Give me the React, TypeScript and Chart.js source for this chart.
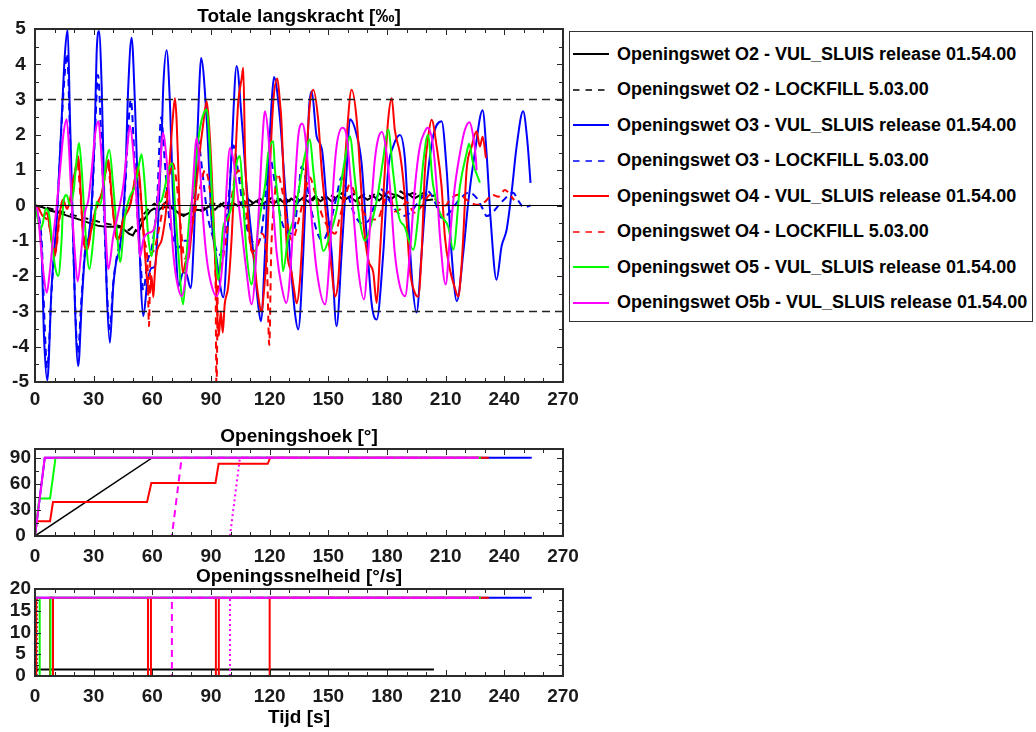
import React, { useEffect, useRef } from 'react';
import { Chart, registerables } from 'chart.js';
Chart.register(...registerables);

const FONT = '"Liberation Sans", Arial, Helvetica, sans-serif';

// ---------- tick labels ----------
const X_TICKS = [0, 30, 60, 90, 120, 150, 180, 210, 240, 270];
const FORCE_TICKS = [-5, -4, -3, -2, -1, 0, 1, 2, 3, 4, 5];
const ANGLE_TICKS = [0, 30, 60, 90];
const SPEED_TICKS = [0, 5, 10, 15, 20];

// ---------- legend labels ----------
const LABELS = [
  'Openingswet O2 - VUL_SLUIS release 01.54.00',
  'Openingswet O2 - LOCKFILL 5.03.00',
  'Openingswet O3 - VUL_SLUIS release 01.54.00',
  'Openingswet O3 - LOCKFILL 5.03.00',
  'Openingswet O4 - VUL_SLUIS release 01.54.00',
  'Openingswet O4 - LOCKFILL 5.03.00',
  'Openingswet O5 - VUL_SLUIS release 01.54.00',
  'Openingswet O5b - VUL_SLUIS release 01.54.00',
];
const COLORS = ['#000000', '#000000', '#0000ff', '#0000ff', '#ff0000', '#ff0000', '#00ff00', '#ff00ff'];
const DASHED = [false, true, false, true, false, true, false, false];

// ---------- Totale langskracht [‰] ----------
const O2_VUL_T = [0,4,8,12,16,20,24,28,32,36,40,44,46,48,50,51.5,53,55,57,59,61,63,65,68,71,74,77,80,83,86,89,92,95,98,101,104,107,110,113,116,119,122,125,128,131,134,137,140,143,146,149,152,155,158,161,164,167,170,173,176,179,182,185,188,191,194,197,200,203.5];
const O2_VUL_V = [0,-0.05,-0.15,-0.2,-0.28,-0.35,-0.42,-0.5,-0.57,-0.6,-0.6,-0.62,-0.7,-0.8,-0.85,-0.7,-0.75,-0.45,-0.3,-0.15,-0.08,-0.15,-0.05,-0.05,-0.1,-0.25,-0.26,-0.18,-0.12,-0.15,-0.02,-0.12,0.05,-0.08,0.08,-0.02,0.12,0,0.12,0.02,0.15,0.05,0.18,0.05,0.2,0.08,0.22,0.1,0.26,0.12,0.25,0.1,0.28,0.15,0.25,0.12,0.28,0.16,0.26,0.14,0.3,0.18,0.3,0.2,0.32,0.2,0.3,0.15,0.17];

const O2_LF_T = [0,5,10,15,20,25,30,35,40,45,48,50,53,55.5,58,61,64,67,70,73,76,79,82,85,88,91,94,97,100,103,106,109,112,115,118,121,124,127,130,133,136,139,142,145,148,151,154,157,160,163,166,169,172,175,178,181,184,187,190,193,196,199,202,205];
const O2_LF_V = [0,-0.05,-0.12,-0.2,-0.28,-0.35,-0.42,-0.5,-0.55,-0.6,-0.7,-0.6,-0.5,-0.25,-0.1,0.05,-0.05,0.1,-0.05,-0.2,-0.3,-0.15,-0.05,-0.15,0,0.08,-0.05,0.1,0,0.15,0.05,0.18,0.05,0.2,0.08,0.22,0.1,0.24,0.12,0.26,0.1,0.28,0.15,0.3,0.18,0.3,0.2,0.35,0.2,0.33,0.22,0.35,0.25,0.38,0.25,0.35,0.3,0.4,0.28,0.35,0.3,0.36,0.25,0.3];

const O3_VUL_T = [0,3.4,4.6,6.3,8.5,11.1,13.6,15.3,16.7,17.9,19.3,20.4,22.1,23.9,25.6,27.3,29,30.7,31.5,32.7,34.1,35.3,36.6,38.3,40,41.4,43.5,46,47.7,49.4,51.1,52.8,54.2,55.4,57.4,59.6,61.3,63,64.8,65.6,67.3,69,70.4,72.1,73.3,75.8,77.5,79.6,81.3,82.7,84,84.9,87.8,90.3,92.9,96.3,98.8,100.6,103.1,105.7,108.2,111.6,114.2,115.5,117.6,119.3,121,122.2,125.3,127.8,130.3,132.9,134.6,137.2,138.9,140.2,141.5,144,146.7,149,151.7,154.2,156.8,159.4,161,164.5,167,169.6,172.1,174.7,178.1,180.6,183.2,186.6,189.2,190.9,193.1,195.1,197.7,200.3,203.6,207.9,210.5,213,215.7,219,221.5,224.9,228.9,230.9,233,236,238.6,241.2,243.7,246.3,249.6,251.7,253.4];
const O3_VUL_V = [0,-1.34,-3.7,-4.95,-2.29,-0.4,2.43,4.3,4.98,2.43,-0.4,-2.76,-4.55,-2.76,-1.35,-0.97,0.07,2.43,4.3,4.94,3.37,0.54,-2.29,-3.89,-2.29,-1.63,-1.16,0.54,3.37,4.75,2.9,0.07,-2.29,-3.13,-2.2,-1.77,-1.73,-0.4,1.95,3.37,4.4,2.9,0.54,-1.35,-2.29,-1.9,-1.95,-2.34,-0.88,1.48,3.37,4.18,2.44,-0.4,-1.53,-2.6,-0.4,1.59,3.95,2.44,0.55,-1.34,-2.85,-3.28,-1.34,1.02,2.9,3.64,2.44,0.55,-1.34,-3.03,-3.51,-1.34,1.02,2.8,3.24,1.96,1.6,0.2,-1.34,-3.42,-1.34,1.02,2.44,2.0,1.2,-0.87,-2.76,-3.23,-1.34,1.02,1.68,2.0,1.3,-0.4,-2.28,-3.03,-1.34,0.55,1.96,2.39,1.02,-1.34,-2.71,-1.34,0.07,1.49,2.7,1.49,-0.4,-2.1,-1.15,-0.68,0.36,1.68,2.67,1.87,0.64];

const O3_LF_T = [0,3.4,4.8,6.2,8.5,11,13.5,15.3,16.4,17.8,19.3,20.5,21.9,23.8,25.8,27.5,29.2,30.8,32.2,33.8,35.3,36.8,38.2,40,42,44,46,47.8,49,50.8,52.6,54.2,55.4,57.5,60,62.5,64.5,66.3,68.5,71,73.5,76,79,81,83.2,85.5,88,91,94,96.5,99,101.5,104,107,110,113.5,116,118,120,122.5,125.5,128,132,134.5,136.3,139,142,147,151,154,156.8,159.5,163,167,171,174,177,180.5,184,188,192,196,201,204.5,208,212,216,222,226,229,231,234,237,239.5,244.5,247,250,253.4];
const O3_LF_V = [0,-1.0,-3.2,-4.6,-2.4,-0.5,2.2,3.8,4.3,2.2,-0.6,-2.8,-4.2,-2.6,-1.2,-0.9,0.1,2.2,3.7,2.0,-0.2,-2.4,-3.5,-2.2,-1.4,-0.9,0.4,2.3,3.0,1.4,-0.5,-1.8,-2.4,-1.6,-1.1,0.2,2.5,1.3,-0.3,-1.0,-1.2,-1.0,-1.0,0.3,1.9,1.0,-0.2,-0.9,-1.4,-1.1,0.2,1.7,0.9,-0.3,-0.9,-1.1,-0.7,0.4,1.4,0.7,-0.3,-0.7,-0.8,0.2,1.1,0.6,-0.3,-1.0,-0.5,0.2,0.8,0.4,-0.2,-0.5,-0.4,0.1,0.45,0.2,-0.1,-0.3,-0.2,0.1,0.4,0.1,-0.35,-0.2,0.1,0.37,0.2,-0.1,-0.3,-0.2,0,0.15,0.36,0.15,-0.05,0];

const O4_VUL_T = [0,2,4.3,6,7.5,9,10.2,12,14.3,16.5,18,19.6,21.5,22.2,23.4,24.7,26.7,29,31.5,34.1,36.3,37.6,39.2,41.4,42.6,45.1,48.6,51.1,52.8,54.5,56.2,57.5,58.8,59.6,60.5,61.3,62.2,64.8,67.3,69,70.4,71.6,72.4,73.3,74.1,75.7,77,78.5,80,82,84,86,87.8,89,90.3,92,93,94,95,96,97,98.8,100.6,102.2,103.9,105.7,106.5,107.4,109.1,110.5,112,113.5,115.9,116.8,118.5,120.1,121.8,123.9,125.3,126,127,129,131.2,132.5,133.8,135.5,137.2,138.9,140.6,142.3,144.8,146.6,149.1,151.7,153.4,155.1,156.8,159.4,161.9,164.5,166.2,167.8,170.4,173,174.7,176.4,178.9,180.6,182.4,184,186.6,188.3,190,191.7,194.3,196,197.7,199.4,201.1,202.8,205.4,207.9,209.6,212.2,214.5,216.4,218,219,220.7,223.3,225.8,227.5,228.9,230.6];
const O4_VUL_V = [0,-0.1,-0.31,-0.2,-0.6,-1.2,-1.43,-0.5,0.16,-0.1,0.2,0.73,1.2,1.39,0.35,-0.97,-1.25,-0.6,0,0.35,1.01,1.29,0.26,-0.87,-0.97,-0.4,0,0.73,1.1,0,-1.35,-2.2,-2.48,-2.0,-2.6,-1.9,-1.35,-0.97,0,1.34,2.43,3.04,2.43,1.01,-0.4,-1.9,-1.6,-1.5,-0.8,0.3,1.4,2.3,2.95,2.3,1.0,-1.35,-2.8,-3.7,-3.0,-3.6,-2.8,-2.3,-0.88,1.0,2.9,3.6,3.9,1.48,-0.4,-1.2,-1.5,-2.3,-3.0,-2.6,-1.35,1.0,2.9,3.6,2.9,2.4,1.0,-1.35,-1.9,-2.4,-2.77,-2.1,-0.4,1.48,2.9,3.28,2.43,1.0,-0.4,-1.82,-2.58,-2.1,-0.4,1.95,3.28,2.43,1.0,-0.4,-1.54,-1.9,-2.76,-1.35,1.0,2.43,3.04,2.14,1.48,0.73,-0.4,-1.82,-2.48,-2.58,-1.35,1.0,1.95,2.43,1.67,0.54,-0.88,-1.82,-2.3,-2.58,-1.8,-0.88,1.0,1.67,2.1,1.67,1.95,1.34];

const O4_LF_T = [0,2,4.3,7,9,10.5,12.5,14.5,17,19.5,21.6,23.2,25,26.8,29.5,32,34.5,37.2,39,41.5,43,46,49,52.4,54.3,56,57.5,58.3,59,60.5,62.5,65,68,70.5,72.5,74.5,76.5,78.5,81,84,87,89.5,91.5,92.3,92.8,93.5,95,97,99.5,102,104,106,108.5,111,113.5,116,118.5,119.8,120.8,122.5,124,126.5,129,131.5,134,137,140.5,143,147,151,153.5,156,158.5,161,164,168,172,175,178,181,184,187,190,194,198,202,206,210,212,217,221,225.8,230,234,237,240.3,243,245];
const O4_LF_V = [0,-0.1,-0.3,-0.5,-1.1,-1.3,-0.4,0.1,0,0.6,1.25,0.3,-0.9,-1.1,-0.5,0,0.4,1.2,0.3,-0.8,-0.9,-0.3,0.1,1.0,0.1,-1.0,-1.6,-3.42,-1.5,-1.3,-0.9,-0.2,0.6,1.2,0.6,-0.6,-1.5,-1.2,-0.4,0.4,1.0,0.4,-1.0,-2.0,-5.2,-2.4,-1.8,-1.2,-0.2,0.7,1.0,0.6,-0.4,-1.3,-1.2,-0.8,-1.5,-3.95,-1.3,0.2,0.9,0.4,-0.5,-1.0,-0.6,0.1,0.8,0.4,-0.3,-0.7,-0.8,-0.3,0.2,0.6,0.3,-0.2,-0.4,-0.4,0,0.4,-0.17,-0.1,0.1,-0.2,0,0.3,0.1,0,0.16,0.31,0.15,0.02,0.1,0.3,0.25,0.44,0.3,0.15];

const O5_VUL_T = [0,1.5,2.6,4,5.5,7,9,10.5,11.9,13.6,14.5,16.2,17.9,19.6,21.3,22.5,23.9,25.6,27.8,29.8,31.5,33.2,34.9,36.6,38,40,42.1,43.5,46,48.6,51.1,53.7,54.5,56.2,57.9,59.7,61.3,63,64.8,66.5,68.2,70.2,71.6,73.3,75.8,77.6,79.2,80.9,82.7,84.4,86.2,87.8,89.5,91,92.5,93.7,96.3,98,100.6,103.1,104.8,106.5,108.2,110.8,112.5,114.2,115.9,117.6,119.3,121.8,122.7,125.3,126.8,129.5,132.1,134.6,137.2,140.6,142.3,144.3,147.5,151,154,157,159.4,161,163.5,166,168.7,172,175,178,180.6,183,186,189,193.4,196.5,198.5,200.9,203.5,207,211.3,213.9,217.3,220.7,222,224,227.5];
const O5_VUL_V = [0,-0.4,-0.69,-0.5,-0.1,-0.2,-1.2,-1.8,-2.0,-0.97,0.1,0.3,0,0.35,1.3,1.77,1.0,-0.6,-1.8,-0.97,0.1,0,0.5,1.3,1.58,0.54,-0.88,-1.6,-0.3,0.26,0.54,1.3,1.45,0.54,-0.88,-1.43,-0.6,0,0.16,0.54,1.0,1.2,0,-1.35,-2.8,-1.35,-0.2,0.35,1.48,2.2,2.6,2.72,1.5,-0.3,-1.5,-2.1,-0.6,-0.4,0,1.2,1.4,0.1,-1.35,-2.24,-1.54,-0.6,0,0.54,1.48,1.82,1.0,-0.4,-1.86,-0.88,-0.4,0.35,1.2,1.87,1.0,0,-1.29,-0.8,-0.2,0.8,1.6,1.96,0.8,-0.4,-1.0,-0.5,0.2,1.3,2.15,1.0,-0.3,-0.6,-1.25,0,1.2,2.0,0.6,-0.2,-0.6,-1.25,0.54,1.48,1.75,1.2,0.65];

const O5B_VUL_T = [0,1.5,2.6,4.3,6,7.7,9.4,11.1,12.8,14.5,16.2,17.5,18.7,20.4,21.8,23.9,25.6,27.3,29,30.7,32.4,34.1,35.8,37.5,40,42.6,45.1,46.9,48.6,50.3,52,53.7,55.4,57.9,60.5,62.2,63.9,65.4,67.3,69,70.7,72.4,75,77.6,79.2,80.9,82.7,84.4,86,87.8,90,92.9,96.3,98,99.7,101.4,103.1,105.5,108,110.8,114.2,115.9,117.6,119.3,121,123.6,126.1,128.5,131.2,132.9,134.6,136.6,138,139.7,141.5,144,148.3,150.8,152.5,154.2,157.2,159.4,161,163.1,165.3,168.2,170.4,172.1,173.8,175.5,177.4,179.5,181.5,184,186.6,189.2,191.7,194.3,196.8,199.4,200.8,203.6,205.4,207.1,210,212.2,214.7,217.3,219.8,222.2,223.8,225.5,225.8];
const O5B_VUL_V = [0,-0.2,-0.9,-1.9,-2.47,-1.8,-0.85,0,1.0,2.0,2.44,1.5,0.1,-1.35,-2.15,-1.15,-0.2,0.16,1.0,2.0,2.39,1.3,-0.4,-1.8,-0.88,-0.2,0.54,1.48,2.25,1.48,0.1,-1.45,-0.97,-0.78,-0.7,-0.2,1.0,2.06,1.3,0,-1.35,-2.1,-2.57,-1.8,-0.88,0.73,1.92,1.0,-0.4,-1.5,-2.2,-2.57,-1.35,0.54,1.63,1.3,0.54,-0.6,-1.8,-2.8,-0.4,1.48,2.67,2.0,0.54,-1.35,-2.29,-2.76,-1.35,0.54,1.95,2.32,2.05,1.0,-0.4,-1.82,-2.8,-1.35,0.54,1.67,2.2,1.95,1.0,-0.4,-1.82,-2.66,-1.35,0.1,1.3,1.9,2.08,1.6,0.54,-1.35,-2.29,-2.57,-1.35,0.54,1.67,2.1,2.2,1.67,0.54,-0.88,-2.24,-0.88,0.54,1.48,2.14,2.36,2.05,1.3,1.0];

// reference lines
const REF_T = [0, 270];
const REF_ZERO = [0, 0];
const REF_UP = [3, 3];
const REF_DOWN = [-3, -3];

// ---------- Openingshoek [°] ----------
const ANG_O2_T = [0, 60, 204];
const ANG_O2_V = [0, 90, 90];
const ANG_O3_T = [0, 5, 254];
const ANG_O3_V = [0, 90, 90];
const ANG_O4_T = [0, 0.6, 7.7, 9.2, 57.3, 59.5, 92.3, 93.9, 119, 120.3, 232];
const ANG_O4_V = [0, 17, 17, 39, 39, 61, 61, 83, 83, 90, 90];
const ANG_O5_T = [0, 2.2, 7.7, 10.5, 228];
const ANG_O5_V = [0, 43, 43, 90, 90];
const ANG_O5B_T = [0, 5, 227];
const ANG_O5B_V = [0, 90, 90];
const ANG_O5B_LF_T = [0, 70, 75, 227];
const ANG_O5B_LF_V = [0, 0, 90, 90];
const ANG_O5B_DOT_T = [0, 99.7, 104.8, 227];
const ANG_O5B_DOT_V = [0, 0, 90, 90];

// ---------- Openingssnelheid [°/s] ----------
const SPD_O2_T = [0, 204];
const SPD_O2_V = [1.5, 1.5];
const SPD_O2_LF_T = [0.8, 0.8];
const SPD_O2_LF_V = [0, 18];
const SPD_O3_T = [0, 254];
const SPD_O3_V = [18, 18];
const SPD_O4_T = [0, 0.6, 0.6, 7.7, 7.7, 9.2, 9.2, 57.8, 57.8, 59.3, 59.3, 92.5, 92.5, 94, 94, 120, 120, 232];
const SPD_O4_V = [18, 18, 0, 0, 18, 18, 0, 0, 18, 18, 0, 0, 18, 18, 0, 0, 18, 18];
const SPD_O5_T = [0, 2.4, 2.4, 7.9, 7.9, 228];
const SPD_O5_V = [18, 18, 0, 0, 18, 18];
const SPD_O5B_T = [0, 0, 227];
const SPD_O5B_V = [0, 18, 18];
const SPD_O5B_LF_T = [0, 70, 70, 227];
const SPD_O5B_LF_V = [0, 0, 18, 18];
const SPD_O5B_DOT_T = [0, 99.7, 99.7, 227];
const SPD_O5B_DOT_V = [0, 0, 18, 18];

// ---------- helpers ----------
function pts(t: number[], v: number[]) {
  return t.map((x, i) => ({ x, y: v[i] }));
}
function range(a: number, b: number, s: number) {
  const r: number[] = [];
  for (let v = a; v <= b + 1e-9; v += s) r.push(+v.toFixed(6));
  return r;
}
function ds(label: string, t: number[], v: number[], color: string, dash: number[], order: number, width = 2, extra: any = {}) {
  return {
    label,
    data: pts(t, v),
    borderColor: color,
    backgroundColor: color,
    borderWidth: width,
    borderDash: dash,
    pointRadius: 0,
    fill: false,
    tension: 0,
    order,
    ...extra,
  };
}

const DASH = [7, 5];
const DOT = [2, 3];

const CANVAS_W = 620;
const PAD_RIGHT = CANVAS_W - 563;

const matlabAxes = {
  id: 'matlabAxes',
  afterDatasetsDraw(chart: any, _args: any, o: any) {
    const { ctx, chartArea: a, scales } = chart;
    const xs = scales.x;
    const ys = scales.y;
    ctx.save();
    ctx.beginPath();
    ctx.strokeStyle = '#262626';
    ctx.lineWidth = 1;
    const tickX = (vals: number[], len: number) => {
      for (const v of vals) {
        const p = Math.round(xs.getPixelForValue(v)) + 0.5;
        ctx.moveTo(p, a.bottom);
        ctx.lineTo(p, a.bottom - len);
        ctx.moveTo(p, a.top);
        ctx.lineTo(p, a.top + len);
      }
    };
    const tickY = (vals: number[], len: number) => {
      for (const v of vals) {
        const p = Math.round(ys.getPixelForValue(v)) + 0.5;
        ctx.moveTo(a.left, p);
        ctx.lineTo(a.left + len, p);
        ctx.moveTo(a.right, p);
        ctx.lineTo(a.right - len, p);
      }
    };
    tickX(range(X_TICKS[0], X_TICKS[X_TICKS.length - 1], o.xMinor), 4);
    tickX(X_TICKS, 6);
    tickY(range(o.yMin, o.yMax, o.yMinor), 4);
    tickY(o.yTicks, 6);
    ctx.stroke();
    ctx.lineWidth = 2;
    ctx.strokeStyle = '#2b2b2b';
    ctx.strokeRect(a.left, a.top, a.right - a.left, a.bottom - a.top);
    ctx.fillStyle = '#000';
    ctx.font = `bold 19px ${FONT}`;
    ctx.textAlign = 'center';
    ctx.textBaseline = 'middle';
    ctx.fillText(o.title, (a.left + a.right) / 2, a.top - 12);
    ctx.restore();
  },
};

function buildChart(canvas: HTMLCanvasElement, datasets: any[], p: any) {
  const tickFont = { family: FONT, size: 19, weight: 'bold' as const };
  return new Chart(canvas, {
    type: 'line',
    data: { datasets },
    options: {
      animation: false,
      responsive: false,
      events: [],
      layout: { padding: { left: 0, right: PAD_RIGHT, top: 29, bottom: 0 } },
      plugins: {
        legend: { display: false },
        tooltip: { enabled: false },
        matlabAxes: { title: p.title, yMin: p.yMin, yMax: p.yMax, yMinor: p.yMinor, yTicks: p.yTicks, xMinor: 10 },
      } as any,
      scales: {
        x: {
          type: 'linear',
          min: 0,
          max: 270,
          afterBuildTicks: (s: any) => { s.ticks = X_TICKS.map((value) => ({ value })); },
          afterFit: (s: any) => { s.height = p.xH; },
          ticks: { font: tickFont, color: '#1a1a1a', padding: p.xPad, maxRotation: 0, minRotation: 0, autoSkip: false },
          grid: { display: false, drawTicks: false },
          border: { display: false },
          title: p.xTitle
            ? { display: true, text: p.xTitle, font: { family: FONT, size: 19, weight: 'bold' }, color: '#000', padding: { top: 0, bottom: 3 } }
            : { display: false },
        },
        y: {
          type: 'linear',
          min: p.yMin,
          max: p.yMax,
          afterBuildTicks: (s: any) => { s.ticks = p.yTicks.map((value: number) => ({ value })); },
          afterFit: (s: any) => { s.width = 35; },
          ticks: { font: tickFont, color: '#1a1a1a', padding: p.yPad, crossAlign: 'center', autoSkip: false },
          grid: { display: false, drawTicks: false },
          border: { display: false },
        },
      },
    } as any,
    plugins: [matlabAxes as any],
  });
}

function forceDatasets() {
  const mono = { cubicInterpolationMode: 'monotone' };
  return [
    ds(LABELS[0], O2_VUL_T, O2_VUL_V, COLORS[0], [], 8, 2),
    ds(LABELS[1], O2_LF_T, O2_LF_V, COLORS[1], DASH, 7, 2),
    ds(LABELS[2], O3_VUL_T, O3_VUL_V, COLORS[2], [], 6, 2, mono),
    ds(LABELS[3], O3_LF_T, O3_LF_V, COLORS[3], DASH, 5, 2, mono),
    ds(LABELS[4], O4_VUL_T, O4_VUL_V, COLORS[4], [], 4, 2, mono),
    ds(LABELS[5], O4_LF_T, O4_LF_V, COLORS[5], DASH, 3, 2, mono),
    ds(LABELS[6], O5_VUL_T, O5_VUL_V, COLORS[6], [], 2, 2, mono),
    ds(LABELS[7], O5B_VUL_T, O5B_VUL_V, COLORS[7], [], 1, 2, mono),
    ds('nul', REF_T, REF_ZERO, '#000', [], 0, 1),
    ds('+3', REF_T, REF_UP, '#222', [8, 5], 0, 1.5),
    ds('-3', REF_T, REF_DOWN, '#222', [8, 5], 0, 1.5),
  ];
}

function angleDatasets() {
  return [
    ds(LABELS[2], ANG_O3_T, ANG_O3_V, COLORS[2], [], 7),
    ds(LABELS[0], ANG_O2_T, ANG_O2_V, COLORS[0], [], 6, 1.5),
    ds(LABELS[4], ANG_O4_T, ANG_O4_V, COLORS[4], [], 5),
    ds(LABELS[6], ANG_O5_T, ANG_O5_V, COLORS[6], [], 4),
    ds('O5b dotted', ANG_O5B_DOT_T, ANG_O5B_DOT_V, COLORS[7], DOT, 3),
    ds('O5b dashed', ANG_O5B_LF_T, ANG_O5B_LF_V, COLORS[7], DASH, 2),
    ds(LABELS[7], ANG_O5B_T, ANG_O5B_V, COLORS[7], [], 1),
  ];
}

function speedDatasets() {
  return [
    ds(LABELS[2], SPD_O3_T, SPD_O3_V, COLORS[2], [], 8),
    ds(LABELS[0], SPD_O2_T, SPD_O2_V, COLORS[0], [], 7),
    ds(LABELS[1], SPD_O2_LF_T, SPD_O2_LF_V, COLORS[1], [2, 2], 6),
    ds(LABELS[4], SPD_O4_T, SPD_O4_V, COLORS[4], [], 5),
    ds(LABELS[6], SPD_O5_T, SPD_O5_V, COLORS[6], [], 4),
    ds('O5b dotted', SPD_O5B_DOT_T, SPD_O5B_DOT_V, COLORS[7], DOT, 3),
    ds('O5b dashed', SPD_O5B_LF_T, SPD_O5B_LF_V, COLORS[7], DASH, 2),
    ds(LABELS[7], SPD_O5B_T, SPD_O5B_V, COLORS[7], [], 1),
  ];
}

function Plot({ left, top, width, height, make }: any) {
  const ref = useRef<HTMLCanvasElement>(null);
  useEffect(() => {
    const c = make(ref.current as HTMLCanvasElement);
    return () => c.destroy();
  }, []);
  return (
    <div style={{ position: 'absolute', left, top, width, height }}>
      <canvas ref={ref} width={width} height={height} style={{ width, height, display: 'block' }} />
    </div>
  );
}

function Legend() {
  return (
    <div
      style={{
        position: 'absolute',
        left: 569,
        top: 31,
        width: 464,
        height: 291,
        boxSizing: 'border-box',
        border: '1.5px solid #333',
        background: '#fff',
      }}
    >
      {LABELS.map((lab, i) => (
        <div
          key={lab}
          style={{ position: 'absolute', left: 3, top: 22.3 + 35.5 * i - 12, height: 24, display: 'flex', alignItems: 'center', whiteSpace: 'nowrap' }}
        >
          <svg width={36} height={6} style={{ display: 'block' }}>
            <line x1={0} y1={3} x2={36} y2={3} stroke={COLORS[i]} strokeWidth={DASHED[i] ? 1.5 : 2} strokeDasharray={DASHED[i] ? '6.5,6' : undefined} />
          </svg>
          <span style={{ marginLeft: 8, font: `bold 18px ${FONT}`, color: '#000' }}>{lab}</span>
        </div>
      ))}
    </div>
  );
}

export default function App() {
  return (
    <div style={{ position: 'absolute', left: 0, top: 0, width: 1036, height: 732, background: '#fff', overflow: 'hidden' }}>
      <Plot
        left={0}
        top={0}
        width={CANVAS_W}
        height={412}
        make={(c: HTMLCanvasElement) =>
          buildChart(c, forceDatasets(), { title: 'Totale langskracht [‰]', yMin: -5, yMax: 5, yMinor: 0.5, yTicks: FORCE_TICKS, xH: 30, yPad: 6, xPad: 6 })
        }
      />
      <Plot
        left={0}
        top={420}
        width={CANVAS_W}
        height={150}
        make={(c: HTMLCanvasElement) =>
          buildChart(c, angleDatasets(), { title: 'Openingshoek [°]', yMin: 0, yMax: 100, yMinor: 15, yTicks: ANGLE_TICKS, xH: 34, yPad: 4, xPad: 9 })
        }
      />
      <Plot
        left={0}
        top={560}
        width={CANVAS_W}
        height={172}
        make={(c: HTMLCanvasElement) =>
          buildChart(c, speedDatasets(), { title: 'Openingssnelheid [°/s]', yMin: 0, yMax: 20, yMinor: 2.5, yTicks: SPEED_TICKS, xH: 56, yPad: 4, xPad: 9, xTitle: 'Tijd [s]' })
        }
      />
      <Legend />
    </div>
  );
}
